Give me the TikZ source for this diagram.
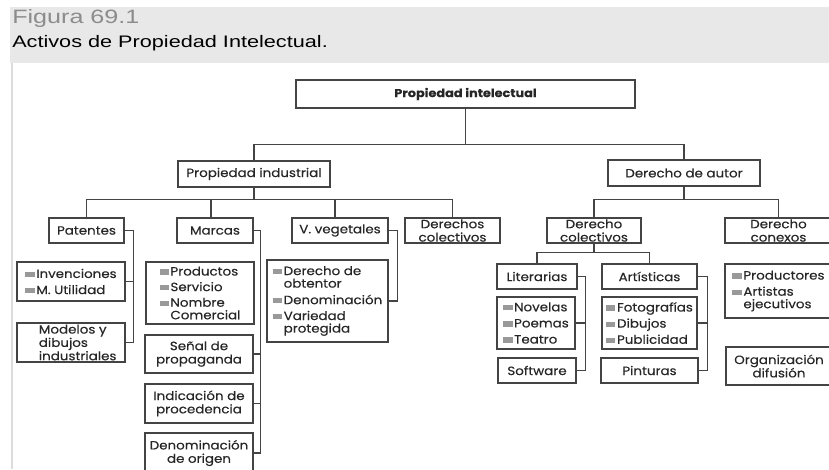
\documentclass[tikz,border=0pt]{standalone}
\usepackage{fontspec}
\setmainfont{Poppins}[FakeStretch=1.12, FakeBold=0.35]
\newfontfamily\hdrfont{Liberation Sans}[FakeStretch=1.3]
\usetikzlibrary{calc}
\definecolor{hdr}{HTML}{E8E8E8}
\definecolor{lin}{HTML}{444444}
\definecolor{txt}{HTML}{262626}
\definecolor{sqc}{HTML}{999999}
\definecolor{figc}{HTML}{8C8C8C}
\definecolor{frm}{HTML}{DCDCDC}
\newcommand\sqb{\textcolor{sqc}{\rule[0.6pt]{7pt}{4pt}}\hspace{1.2pt}}
\newcommand\sqp{\hphantom{\sqb}}
\begin{document}
\begin{tikzpicture}[x=0.75pt,y=-0.75pt,
  bx/.style n args={2}{draw=lin, line width=0.9pt, minimum width=#1*0.75pt,
    minimum height=#2*0.75pt, inner sep=0pt, text=txt,
    font=\fontsize{9}{10}\selectfont, align=center},
  lst/.style={align=left, font=\fontsize{9}{9.4}\selectfont},
  ln/.style={draw=lin, line width=0.9pt},
  hd/.style={anchor=base west, inner sep=0pt, font=\hdrfont\fontsize{12.5}{14}\selectfont}]
\useasboundingbox (0,0) rectangle (829,469);
\clip (0,0) rectangle (829,469);
% header
\fill[hdr] (10,7) rectangle (829,63);
\draw[frm, line width=0.8pt] (12,63) -- (12,469);
\node[hd, text=figc, font=\hdrfont\fontsize{14.5}{16}\selectfont] (fig) at (12,23) {Figura 69.1};
\node[hd, text=black] (tit) at (12,47) {Activos de Propiedad Intelectual.};
% boxes
\node[bx={339}{28}, font=\bfseries\fontsize{8.6}{10}\selectfont] (pi) at (465.5,94) {Propiedad intelectual};
\node[bx={152}{26}] (pind) at (254,174) {Propiedad industrial};
\node[bx={152}{26}] (da) at (684,173) {Derecho de autor};
\node[bx={75}{25}] (pat) at (86.5,230.5) {Patentes};
\node[bx={76}{25}] (mar) at (215,230.5) {Marcas};
\node[bx={96}{25}] (vv) at (340,230.5) {V. vegetales};
\node[bx={95}{25}] (dcol) at (452.5,230.5) {Derechos\\colectivos};
\node[bx={94}{25}] (dcol2) at (594,230.5) {Derecho\\colectivos};
\node[bx={107}{25}] (dcon) at (778.5,230.5) {Derecho\\conexos};
\node[bx={108}{39}, lst] (inv) at (71,281.5) {\sqb Invenciones\\[2.7pt]\sqb M. Utilidad};
\node[bx={108}{39}, align=left] (mod) at (71,342.5) {\hspace*{10pt}Modelos y\\\hspace*{10pt}dibujos\\\hspace*{10pt}industriales};
\node[bx={108}{62}, lst] (prod) at (200,293) {\sqb Productos\\[2.3pt]\sqb Servicio\\[2.3pt]\sqb Nombre\\\sqp Comercial};
\node[bx={108}{38}] (senal) at (199,354) {Señal de\\propaganda};
\node[bx={108}{39}] (indic) at (199,403.5) {Indicación de\\procedencia};
\node[bx={108}{40}] (denom) at (199,453) {Denominación\\de origen};
\node[bx={121}{82}, lst] (obt) at (327.5,301) {\sqb Derecho de\\\sqp obtentor\\[3pt]\sqb Denominación\\[2.5pt]\sqb Variedad\\\sqp protegida};
\node[bx={80}{25}] (lit) at (537,276.5) {Literarias};
\node[bx={95}{25}] (art) at (649.5,276.5) {Artísticas};
\node[bx={78}{52}, lst] (nov) at (536,323) {\sqb Novelas\\[2.7pt]\sqb Poemas\\[2.7pt]\sqb Teatro};
\node[bx={95}{52}, lst] (foto) at (649.5,323) {\sqb Fotografías\\[2.7pt]\sqb Dibujos\\[2.7pt]\sqb Publicidad};
\node[bx={97}{25}] (pint) at (649.5,370.5) {Pinturas};
\node[bx={78}{25}] (soft) at (537,370.5) {Software};
\node[bx={107}{54}, lst] (prodr) at (778.5,291) {\sqb Productores\\[2.7pt]\sqb Artistas\\\sqp ejecutivos};
\node[bx={106}{38}] (org) at (779,366) {Organización\\difusión};
% tree connectors
\draw[ln] (pi.south) -- ++(0,36) coordinate (j1);
\draw[ln] (pind.north) |- (j1) -| (da.north);
\draw[ln] (pind.south) -- ++(0,12) coordinate (j2);
\coordinate (mt) at ($(mar.north)+(-4,0)$);
\coordinate (vt) at ($(vv.north)+(-5,0)$);
\draw[ln] (pat.north) |- (j2) -| (dcol.north);
\draw[ln] (mt) -- (mt |- j2);
\draw[ln] (vt) -- (vt |- j2);
\draw[ln] (da.south) -- ++(0,13) coordinate (j3);
\draw[ln] (dcol2.north) |- (j3) -| (dcon.north);
\draw[ln] (dcol2.south) -- ++(0,9) coordinate (j4);
\draw[ln] (lit.north) |- (j4) -| (art.north);
% brackets
\draw[ln] (pat.east) -- ++(9,0) coordinate (bp) |- (mod.east);
\draw[ln] (inv.east) -- (inv.east -| bp);
\draw[ln] (mar.east) -- ++(7,0) coordinate (bm) |- (denom.east);
\draw[ln] (senal.east) -- (senal.east -| bm);
\draw[ln] (indic.east) -- (indic.east -| bm);
\draw[ln] (vv.east) -- ++(9,0) coordinate (bv) |- (obt.east);
\draw[ln] (lit.east) -- ++(8,0) coordinate (bl) |- (soft.east);
\draw[ln] (nov.east) -- (nov.east -| bl);
\draw[ln] (art.east) -- ++(10,0) coordinate (ba) |- (pint.east);
\draw[ln] (foto.east) -- (foto.east -| ba);
\end{tikzpicture}
\end{document}
